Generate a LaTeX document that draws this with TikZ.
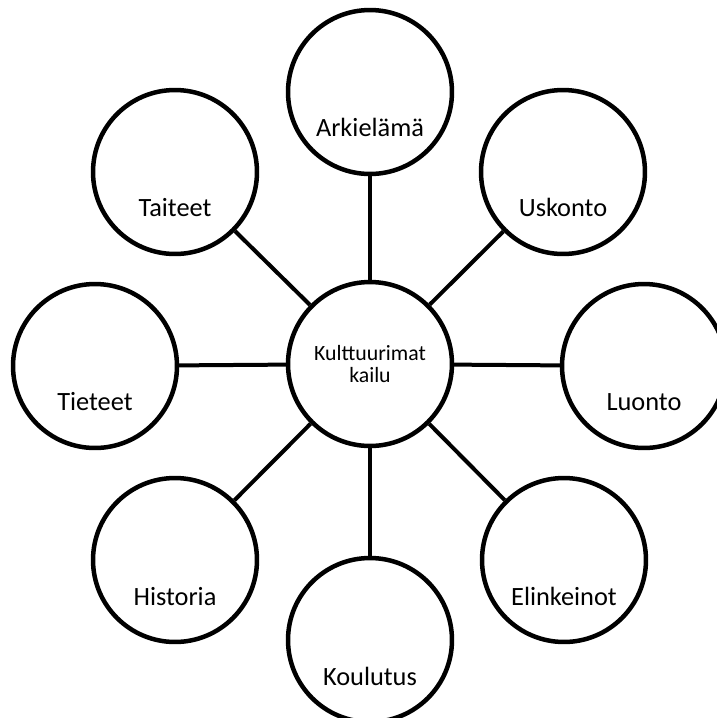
\documentclass[tikz,border=0pt]{standalone}
\usepackage{fontspec}
\setmainfont{Carlito}
\usepackage{tikz}
\usetikzlibrary{positioning}
\tikzstyle{yhteys} = [draw, line width=0.08cm]

\begin{document}
\begin{tikzpicture}[x=0.02cm, y=-0.02cm]

				\tikzstyle{Aihe} = [circle, draw, fill=white, line width=0.09cm, minimum size=3.28cm, inner sep=0pt, text height=1.8cm, text depth=0pt, font=\fontsize{15}{18}\selectfont]
				\tikzstyle{Keskus} = [circle, draw, fill=white, line width=0.09cm, minimum size=3.28cm, inner sep=0pt, align=center, font=\fontsize{12.4}{13}\selectfont]

				\useasboundingbox (0,0) rectangle (717,718);

				% Place nodes
				\node [Keskus] (keskus) at (370,364) {Kulttuurimat\\kailu};
				\node [Aihe] (arkielama) at (370,92) {Arkielämä};
				\node [Aihe] (uskonto) at (563,172) {Uskonto};
				\node [Aihe] (luonto) at (644,366) {Luonto};
				\node [Aihe] (elinkeinot) at (564,560) {Elinkeinot};
				\node [Aihe] (koulutus) at (370,640) {Koulutus};
				\node [Aihe] (historia) at (175,560) {Historia};
				\node [Aihe] (tieteet) at (95,366) {Tieteet};
				\node [Aihe] (taiteet) at (175,172) {Taiteet};

				\path [yhteys] (keskus) -- (arkielama);
				\path [yhteys] (keskus) -- (uskonto);
				\path [yhteys] (keskus) -- (luonto);
				\path [yhteys] (keskus) -- (elinkeinot);
				\path [yhteys] (keskus) -- (koulutus);
				\path [yhteys] (keskus) -- (historia);
				\path [yhteys] (keskus) -- (tieteet);
				\path [yhteys] (keskus) -- (taiteet);

\end{tikzpicture}
\end{document}
